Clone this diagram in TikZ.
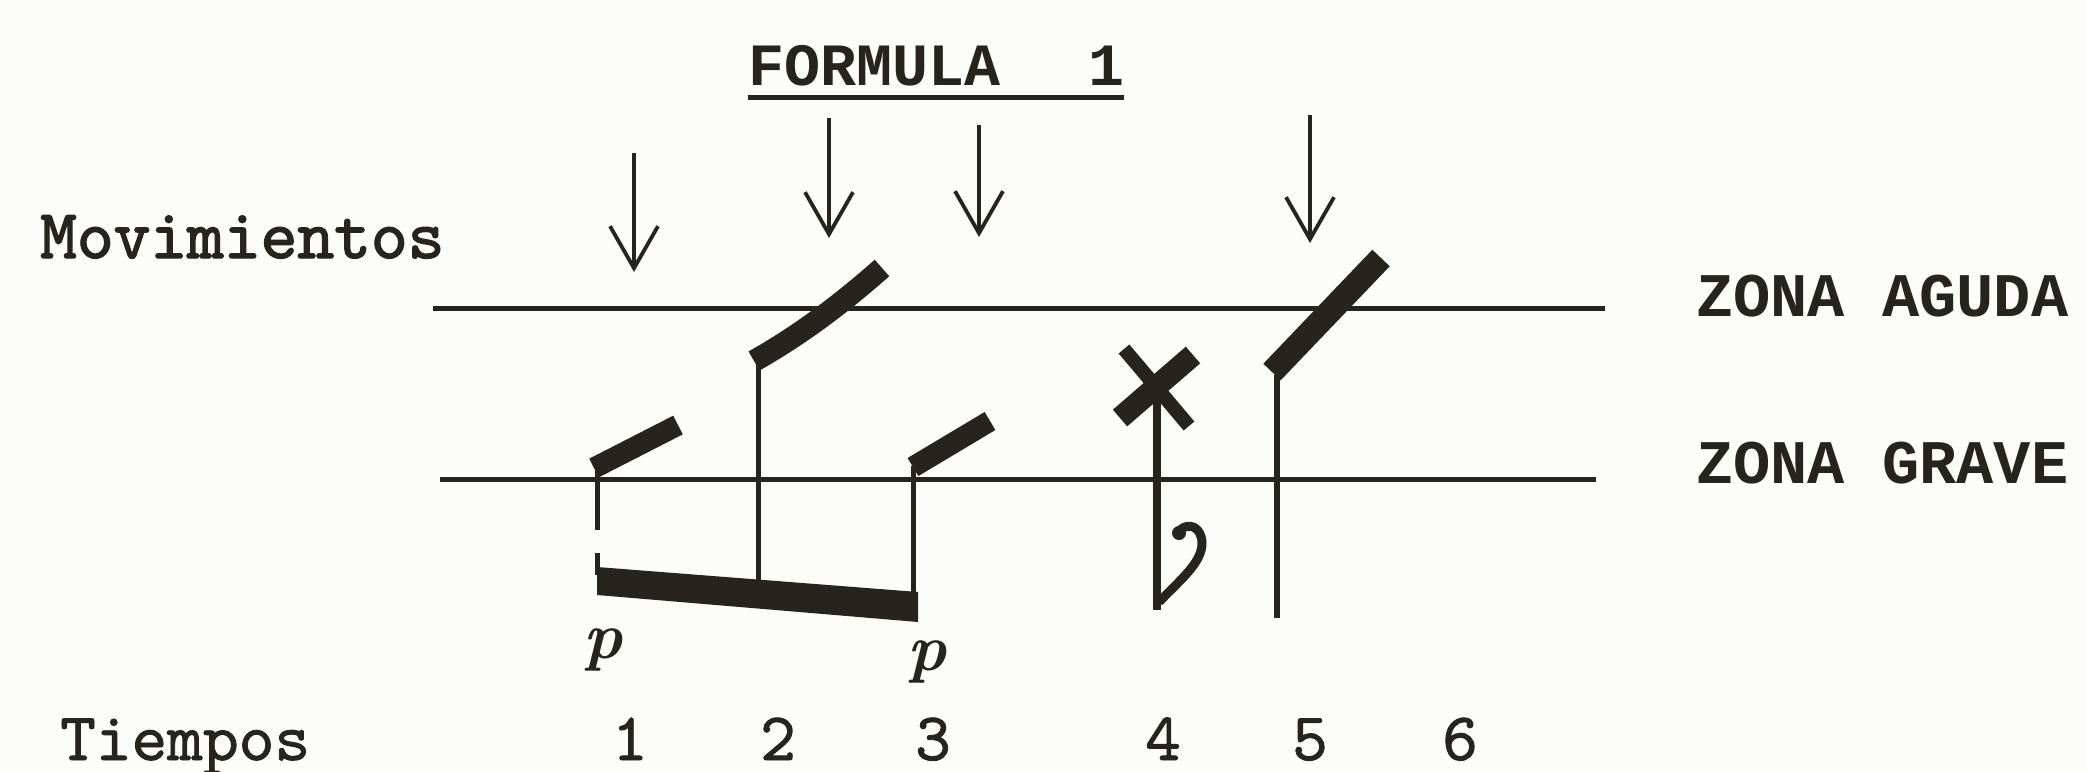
\documentclass[tikz,border=0pt]{standalone}
\usepackage{fontspec}
\usetikzlibrary{arrows.meta}
\newfontfamily\typefont{Liberation Mono}
\newfontfamily\movfont{lmmono10-regular.otf}[FakeBold=2]
\newfontfamily\timefont{lmmono10-regular.otf}[FakeBold=1.2]
\definecolor{ink}{RGB}{38,36,28}
\definecolor{paper}{RGB}{252,252,249}
\begin{document}
\begin{tikzpicture}[x=1pt,y=-1pt,
  staff/.style={draw=ink, line width=5pt},
  stemline/.style={draw=ink, line width=5pt},
  accent/.style={draw=ink, line width=21pt},
  mov/.style={draw=ink, line width=3.8pt, -{Straight Barb[length=42pt,width=48pt,line width=3.8pt]}},
  lbl/.style={inner sep=0pt, text=ink},
  zonalbl/.style={lbl, anchor=base west, font=\typefont\bfseries\fontsize{62}{62}\selectfont},
  num/.style={lbl, anchor=base, font=\timefont\fontsize{68}{68}\selectfont},
  dyn/.style={lbl, font=\rmfamily\bfseries\itshape\fontsize{66}{66}\selectfont},
]
\useasboundingbox[fill=paper] (0,0) rectangle (2087,771);

% title
\node[lbl, anchor=base west, font=\typefont\bfseries\fontsize{60}{60}\selectfont] (title) at (748,85) {FORMULA\hspace{88pt}1};
\draw[ink, line width=5pt] ([yshift=-12pt]title.base west) -- ([yshift=-12pt]title.base east);

% side labels
\node[lbl, anchor=base west, font=\movfont\fontsize{70}{70}\selectfont] (mov) at (40,258) {Movimientos};
\node[lbl, anchor=base west, font=\timefont\fontsize{68}{68}\selectfont] (tiem) at (60,760) {Tiempos};
\node[zonalbl] (agu) at (1696,316) {ZONA AGUDA};
\node[zonalbl] (gra) at (1696,483) {ZONA GRAVE};

% staff lines
\coordinate (upL) at (433,308); \coordinate (upR) at (1605,308);
\coordinate (loL) at (440,479); \coordinate (loR) at (1596,479);
\draw[staff] (upL) -- (upR);
\draw[staff] (loL) -- (loR);

% movement arrows
\coordinate (a1s) at (634,153); \coordinate (a1e) at (634,272);
\coordinate (a2s) at (829,118); \coordinate (a2e) at (829,238);
\coordinate (a3s) at (979,125); \coordinate (a3e) at (979,237);
\coordinate (a4s) at (1310,115); \coordinate (a4e) at (1310,243);
\draw[mov] (a1s) -- (a1e);
\draw[mov] (a2s) -- (a2e);
\draw[mov] (a3s) -- (a3e);
\draw[mov] (a4s) -- (a4e);

% note accents
\draw[accent] (594,468) -- (678,425);
\draw[accent, line width=22pt] (754,361) .. controls (800,335) and (840,305) .. (882,268);
\draw[accent] (913,467) -- (990,421);
\draw[accent, line width=24pt] (1272,372) -- (1381,258);

% stems
\draw[stemline] (597,470) -- (597,530);
\draw[stemline] (597,553) -- (597,575);
\draw[stemline] (758,365) -- (758,580);
\draw[stemline] (913,466) -- (913,615);
\draw[stemline, line width=8pt] (1157,393) -- (1157,610);
\draw[stemline, line width=6pt] (1277,375) -- (1277,618);

% beam
\fill[ink] (597,567) -- (918,592) -- (918,622) -- (597,595) -- cycle;

% X head
\draw[accent, line width=22pt] (1120,418) -- (1193,355);
\draw[accent, line width=14pt] (1124,349) -- (1189,426);

% flag
\draw[ink, line width=9pt] (1159,602) .. controls (1180,580) and (1203,562) .. (1202,542) .. controls (1201,527) and (1189,522) .. (1180,530);
\fill[ink] (1179,533) circle (7pt);

% dynamics
\node[dyn] (p1) at (603,650) {p};
\node[dyn] (p3) at (927,662) {p};

% time numbers
\node[num] (t1) at (630,760) {1};
\node[num] (t2) at (778,760) {2};
\node[num] (t3) at (933,760) {3};
\node[num] (t4) at (1163,760) {4};
\node[num] (t5) at (1310,760) {5};
\node[num] (t6) at (1460,760) {6};
\end{tikzpicture}
\end{document}
